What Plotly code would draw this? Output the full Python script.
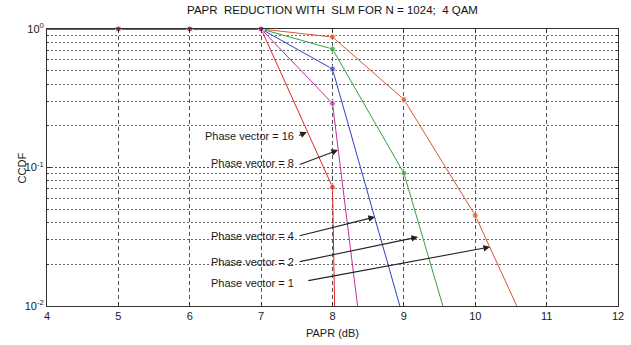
import plotly.graph_objects as go

# ---------------- data ----------------
papr_pv1 = [4, 5, 6, 7, 8, 9, 10, 11]
ccdf_pv1 = [1, 1, 1, 1, 0.875, 0.31, 0.045, 0.0034]

papr_pv2 = [4, 5, 6, 7, 8, 9, 10]
ccdf_pv2 = [1, 1, 1, 1, 0.717, 0.091, 0.0016]

papr_pv4 = [4, 5, 6, 7, 8, 9]
ccdf_pv4 = [1, 1, 1, 1, 0.514, 0.0079]

papr_pv16 = [4, 5, 6, 7, 8, 8.1]
ccdf_pv16 = [1, 1, 1, 1, 0.072, 0.0001]

papr_pv8 = [4, 5, 6, 7, 8, 8.5]
ccdf_pv8 = [1, 1, 1, 1, 0.29, 0.0024]

marker_pos_x = [5, 6, 7, 8, 9, 10]

x_ticks = [4, 5, 6, 7, 8, 9, 10, 11, 12]
y_ticks = [0.01, 0.1, 1]
y_ticktext = ["10<sup>-2</sup>", "10<sup>-1</sup>", "10<sup>0</sup>"]
y_minor = [0.02, 0.03, 0.04, 0.05, 0.06, 0.07, 0.08, 0.09,
           0.2, 0.3, 0.4, 0.5, 0.6, 0.7, 0.8, 0.9]

labels = ["Phase vector = 16", "Phase vector = 8", "Phase vector = 4",
          "Phase vector = 2", "Phase vector = 1"]
# label anchor (x, log10 y), arrow tail and head (x, log10 y)
label_pos = [(7.49, -0.773), (7.49, -0.968), (7.49, -1.495), (7.49, -1.682), (7.49, -1.834)]
arrow_tail = [(7.51, -0.773), (7.52, -0.982), (7.52, -1.495), (7.52, -1.682), (7.64, -1.819)]
arrow_head = [(7.64, -0.744), (8.077, -0.874), (8.595, -1.357), (9.198, -1.502), (10.207, -1.574)]

series = [
    ("Phase vector = 1", papr_pv1, ccdf_pv1, "#dd5533"),
    ("Phase vector = 2", papr_pv2, ccdf_pv2, "#33a03a"),
    ("Phase vector = 4", papr_pv4, ccdf_pv4, "#3340c0"),
    ("Phase vector = 16", papr_pv16, ccdf_pv16, "#e02828"),
    ("Phase vector = 8", papr_pv8, ccdf_pv8, "#c030a0"),
]

FONT = "Liberation Sans Narrow, Arial Narrow, Liberation Sans, Arial, sans-serif"

fig = go.Figure()
for name, xs, ys, col in series:
    sizes = [6 if (x in marker_pos_x and y >= 0.01) else 0 for x, y in zip(xs, ys)]
    fig.add_trace(go.Scatter(
        x=xs, y=ys, mode="lines+markers", name=name,
        line=dict(color=col, width=1),
        marker=dict(color=col, size=sizes, symbol="circle"),
        cliponaxis=False, showlegend=False,
    ))

annotations = []
for txt, (lx, ly), (tx, ty), (hx, hy) in zip(labels, label_pos, arrow_tail, arrow_head):
    annotations.append(dict(
        x=lx, y=ly, xref="x", yref="y", text=txt, showarrow=False,
        xanchor="right", yanchor="middle",
        font=dict(family=FONT, size=11, color="#1a1a1a")))
    annotations.append(dict(
        x=hx, y=hy, ax=tx, ay=ty, xref="x", yref="y", axref="x", ayref="y",
        text="", showarrow=True, arrowhead=2, arrowsize=1.2, arrowwidth=1.1,
        arrowcolor="#222"))

annotations.append(dict(
    x=0.5, y=-0.097, xref="paper", yref="paper", text="PAPR (dB)",
    showarrow=False, xanchor="center", yanchor="middle",
    font=dict(family=FONT, size=11, color="#1a1a1a")))
annotations.append(dict(
    x=-0.044, y=0.5, xref="paper", yref="paper", text="CCDF", textangle=-90,
    showarrow=False, xanchor="center", yanchor="middle",
    font=dict(family=FONT, size=11, color="#1a1a1a")))

fig.update_layout(
    width=631, height=345,
    margin=dict(l=47, r=13, t=29, b=39, autoexpand=False),
    paper_bgcolor="white", plot_bgcolor="white",
    title=dict(text="PAPR  REDUCTION WITH  SLM FOR N = 1024;  4 QAM",
               x=0.5, xref="paper", xanchor="center",
               y=1 - 10 / 345, yref="container", yanchor="middle",
               font=dict(family=FONT, size=11.5, color="#111")),
    annotations=annotations,
    font=dict(family=FONT, size=11, color="#1a1a1a"),
)

fig.update_xaxes(
    range=[4, 12], tickvals=x_ticks, ticktext=[str(v) for v in x_ticks],
    showgrid=True, gridcolor="#555", griddash="4px,3px", gridwidth=1,
    showline=True, linecolor="#333", linewidth=1, mirror="ticks",
    ticks="inside", ticklen=4, tickcolor="#333", zeroline=False,
    automargin=False,
    tickfont=dict(family=FONT, size=11, color="#1a1a1a"),
)
fig.update_yaxes(
    type="log", range=[-2, 0], tickvals=y_ticks, ticktext=y_ticktext,
    showgrid=True, gridcolor="#555", griddash="2px,2px", gridwidth=1,
    showline=True, linecolor="#333", linewidth=1, mirror="ticks",
    ticks="inside", ticklen=4, tickcolor="#333", zeroline=False,
    automargin=False,
    tickfont=dict(family=FONT, size=11, color="#1a1a1a"),
    minor=dict(tickmode="array", tickvals=y_minor, showgrid=True,
               gridcolor="#666", griddash="2px,2px", gridwidth=1,
               ticks="inside", ticklen=2, tickcolor="#333"),
)

fig.write_html("out.html", config={"displayModeBar": False},
               post_script="document.body.style.margin='0px';")
